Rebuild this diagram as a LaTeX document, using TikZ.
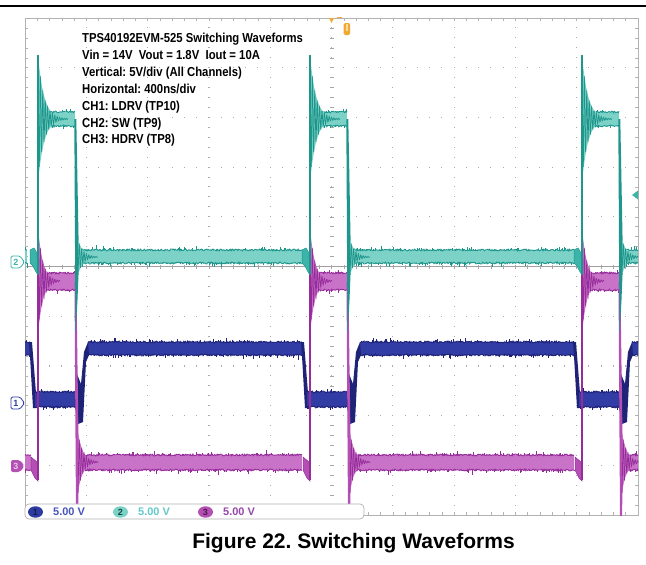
\documentclass[tikz,border=0pt]{standalone}
\usepackage{fontspec}
\setmainfont{Liberation Sans}
\newfontfamily\annfont[FakeStretch=0.87]{Liberation Sans}
\frenchspacing
\definecolor{tealL}{RGB}{125,210,200}
\definecolor{tealD}{RGB}{30,150,140}
\definecolor{tealC}{RGB}{60,180,170}
\definecolor{magL}{RGB}{200,115,200}
\definecolor{magD}{RGB}{150,45,155}
\definecolor{magC}{RGB}{180,80,180}
\definecolor{bluL}{RGB}{50,60,165}
\definecolor{bluD}{RGB}{30,35,120}
\definecolor{bluC}{RGB}{45,60,160}
\definecolor{gridc}{RGB}{170,170,170}
\definecolor{orng}{RGB}{240,170,50}
\definecolor{bluT}{RGB}{70,85,190}
\definecolor{tealT}{RGB}{100,200,200}
\definecolor{magT}{RGB}{150,70,170}
\newcommand\wband[5]{%
  \pgfmathsetmacro\wa{#2}\pgfmathsetmacro\wb{#3}%
  \pgfmathsetmacro\wt{#4}\pgfmathsetmacro\wu{#5}%
  \fill[#1L] (\wa,\wt) rectangle (\wb,\wu);
  \pgfmathtruncatemacro\wns{max(3,(\wb-\wa)*1.3)}%
  \draw[#1D,line width=0.9pt] plot[domain=\wa:\wb,samples=\wns,variable=\q] (\q,{\wt+0.9*rand});
  \draw[#1D,line width=0.9pt] plot[domain=\wa:\wb,samples=\wns,variable=\q] (\q,{\wu+0.9*rand});
  \pgfmathtruncatemacro\wnk{max(1,(\wb-\wa)/5)}%
  \foreach \k in {1,...,\wnk}{%
    \pgfmathsetmacro\xa{\wa+rnd*(\wb-\wa)}%
    \pgfmathsetmacro\ha{1+4*rnd*rnd}%
    \draw[#1D,line width=0.5pt] (\xa,\wt) -- (\xa,\wt-\ha);
    \pgfmathsetmacro\xb{\wa+rnd*(\wb-\wa)}%
    \pgfmathsetmacro\hb{1+4*rnd*rnd}%
    \draw[#1D,line width=0.5pt] (\xb,\wu) -- (\xb,\wu+\hb);
  }%
}
\newcommand\wring[7]{%
  \pgfmathsetmacro\wa{#2}\pgfmathsetmacro\wb{#3}%
  \pgfmathsetmacro\wc{#4}\pgfmathsetmacro\wA{#5}%
  \pgfmathsetmacro\wT{#6}\pgfmathsetmacro\wP{#7}%
  \pgfmathtruncatemacro\wns{max(3,(\wb-\wa)*3)}%
  \fill[#1L] plot[domain=\wa:\wb,samples=40,variable=\q] (\q,{\wc-(\wA)*exp(-(\q-\wa)/\wT)}) -- plot[domain=\wb:\wa,samples=40,variable=\q] (\q,{\wc+(\wA)*exp(-(\q-\wa)/\wT)}) -- cycle;
  \draw[#1D,line width=0.7pt] plot[domain=\wa:\wb,samples=\wns,variable=\q] (\q,{\wc-(\wA)*exp(-(\q-\wa)/\wT)*cos(360*(\q-\wa)/\wP)});
}
\begin{document}
\begin{tikzpicture}[x=1pt,y=-1pt]
\pgfmathsetseed{7}
\useasboundingbox (0,0) rectangle (646,565);
\fill[white] (0,0) rectangle (646,565);
% top rule
\draw[line width=1.5pt] (0,6) -- (646,6);
% grid dots
\foreach \j in {1,...,9}{
  \pgfmathsetmacro\yy{18+49.7*\j}
  \foreach \k in {1,...,49}{
    \pgfmathsetmacro\xx{25+12.26*\k}
    \fill[gridc] (\xx-0.5,\yy-0.6) rectangle (\xx+0.5,\yy+0.6);
  }
}
\foreach \i in {1,...,9}{
  \pgfmathsetmacro\xx{25+61.3*\i}
  \foreach \k in {1,...,49}{
    \pgfmathsetmacro\yy{18+9.94*\k}
    \fill[gridc] (\xx-0.6,\yy-0.5) rectangle (\xx+0.6,\yy+0.5);
  }
}
% centre lines
\draw[gray!75,line width=0.6pt] (25,266.5) -- (638,266.5);
\foreach \k in {1,...,49}{
  \pgfmathsetmacro\xx{25+12.26*\k}
  \draw[gray!70,line width=0.5pt] (\xx,264.5) -- (\xx,268.5);
  \pgfmathsetmacro\yy{18+9.94*\k}
  \draw[gray!70,line width=0.5pt] (329.5,\yy) -- (333.5,\yy);
}
% frame with ticks
\draw[gray!60,line width=0.7pt] (25,18) rectangle (638,515);
\foreach \k in {1,...,49}{
  \pgfmathsetmacro\yy{18+9.94*\k}
  \draw[gray!60,line width=0.5pt] (25,\yy) -- (28,\yy);
  \draw[gray!60,line width=0.5pt] (638,\yy) -- (635,\yy);
  \pgfmathsetmacro\xx{25+12.26*\k}
  \draw[gray!60,line width=0.5pt] (\xx,18) -- (\xx,21);
  \draw[gray!60,line width=0.5pt] (\xx,515) -- (\xx,512);
}
% traces
\begin{scope}
\clip (25,18) rectangle (638,515);
% CH1 blue LDRV
\wband{blu}{25}{30}{342}{355}
\wband{blu}{88}{302}{342}{355}
\wband{blu}{360}{574}{342}{355}
\wband{blu}{632}{640}{342}{355}
\foreach \xo in {38,310,582}{
  \fill[bluD] (\xo-9,342) -- (\xo-6,342) -- (\xo-2,393) -- (\xo-2,408) -- (\xo-5,408) -- (\xo-8,356) -- cycle;
  \wband{blu}{\xo-3}{\xo+37}{392}{407}
  \fill[bluD] (\xo+37,392) -- (\xo+39,374) -- (\xo+43,384) -- (\xo+46,352) -- (\xo+50,342) -- (\xo+51,355) -- (\xo+48,362) -- (\xo+45,422) -- (\xo+40,424) -- (\xo+37,407) -- cycle;
}
% CH3 magenta HDRV
\wband{mag}{25}{31}{455}{470}
\wband{mag}{80}{302}{455}{470}
\wband{mag}{352}{574}{455}{470}
\wband{mag}{624}{640}{455}{470}
\foreach \xo in {38,310,582}{
  \fill[magC,draw=magD,line width=0.5pt] (\xo-7,457) -- (\xo-1,462) -- (\xo,481) -- (\xo-3,478) -- (\xo-7,470) -- cycle;
  \wband{mag}{\xo+8}{\xo+37}{273}{290}
  \wring{mag}{\xo}{\xo+22}{281}{53}{5}{2.4}
  \draw[magD,line width=1.2pt] (\xo,480) -- (\xo,228);
  \fill[magC] (\xo+36.5,282) -- (\xo+38,516) -- (\xo+40,516) -- (\xo+41,470) -- (\xo+38.3,282) -- cycle;
  \wring{mag}{\xo+40}{\xo+60}{462}{-30}{5}{2.4}
}
% CH2 teal SW
\wband{teal}{25}{27}{250}{263}
\wband{teal}{80}{302}{250}{263}
\wband{teal}{352}{574}{250}{263}
\wband{teal}{624}{640}{250}{263}
\foreach \xo in {38,310,582}{
  \fill[tealC,draw=tealD,line width=0.5pt] (\xo-8,250) -- (\xo-4,248) -- (\xo-1,253) -- (\xo,275) -- (\xo-2.5,271) -- (\xo-5,266) -- (\xo-8,263) -- cycle;
  \wband{teal}{\xo+8}{\xo+37}{112}{126}
  \wring{teal}{\xo}{\xo+30}{119}{64}{6}{2.4}
  \draw[tealD,line width=1.2pt] (\xo,274) -- (\xo,55);
  \fill[tealD] (\xo+36.3,119) -- (\xo+37.5,334) -- (\xo+39.5,300) -- (\xo+41,262) -- (\xo+38.3,119) -- cycle;
  \wring{teal}{\xo+40}{\xo+60}{257}{-18}{5}{2.4}
}
\end{scope}
% markers left
\draw[tealC,fill=white,line width=0.8pt,rounded corners=1.5pt] (11,256) -- (20,256) -- (24.5,262) -- (20,268) -- (11,268) -- cycle;
\node[font=\bfseries\fontsize{9}{9}\selectfont,text=tealC,inner sep=0] (m2) at (16,262) {2};
\draw[bluC,fill=white,line width=0.8pt,rounded corners=1.5pt] (11,397) -- (20,397) -- (24.5,403) -- (20,409) -- (11,409) -- cycle;
\node[font=\bfseries\fontsize{9}{9}\selectfont,text=bluC,inner sep=0] (m1) at (16,403) {1};
\fill[magC,rounded corners=2pt] (11,460) -- (20,460) -- (24.5,466) -- (20,472) -- (11,472) -- cycle;
\node[font=\bfseries\fontsize{9}{9}\selectfont,text=magL!40!white,inner sep=0] (m3) at (16,466) {3};
% top markers
\fill[orng] (329,18) -- (334,18) -- (331.5,23) -- cycle;
\draw[orng,line width=1pt] (337,17.5) -- (342,17.5);
\fill[orng,rounded corners=1.5pt] (343.5,23) rectangle (350,35);
\fill[orng!45!white] (345.5,24) rectangle (348,31);
% right trigger level marker
\fill[tealC] (638,190.5) -- (632,195) -- (638,199.5) -- cycle;
% legend tab
\draw[gray!60,fill=white,line width=0.7pt,rounded corners=4pt] (25,504) rectangle (364,519);
\fill[bluC] (35.5,512) ellipse (7.5pt and 5.7pt);
\node[font=\bfseries\fontsize{9}{9}\selectfont,text=bluD!70!black,inner sep=0] (l1) at (35.5,512) {1};
\node[anchor=west,font=\bfseries\fontsize{11}{12}\selectfont,text=bluT,inner sep=0] (v1) at (53,512) {5.00 V};
\fill[tealL] (120.5,512) ellipse (7.5pt and 5.7pt);
\node[font=\bfseries\fontsize{9}{9}\selectfont,text=tealD!50!black,inner sep=0] (l2) at (120.5,512) {2};
\node[anchor=west,font=\bfseries\fontsize{11}{12}\selectfont,text=tealT,inner sep=0] (v2) at (138,512) {5.00 V};
\fill[magC] (205.5,512) ellipse (7.5pt and 5.7pt);
\node[font=\bfseries\fontsize{9}{9}\selectfont,text=magD!50!black,inner sep=0] (l3) at (205.5,512) {3};
\node[anchor=west,font=\bfseries\fontsize{11}{12}\selectfont,text=magT,inner sep=0] (v3) at (223,512) {5.00 V};
% annotation text
\tikzset{anntext/.style={anchor=base west,inner sep=0,font=\annfont\bfseries\fontsize{13}{16}\selectfont}}
\node[anntext] (a1) at (82,42.5) {TPS40192EVM-525 Switching Waveforms};
\node[anntext] (a2) at (82,59) {Vin = 14V\ \ Vout = 1.8V\ \ Iout = 10A};
\node[anntext] (a3) at (82,76) {Vertical: 5V/div (All Channels)};
\node[anntext] (a4) at (82,93) {Horizontal: 400ns/div};
\node[anntext] (a5) at (82,110) {CH1: LDRV (TP10)};
\node[anntext] (a6) at (82,127) {CH2: SW (TP9)};
\node[anntext] (a7) at (82,143) {CH3: HDRV (TP8)};
% caption
\node[anchor=base,inner sep=0,font=\bfseries\fontsize{21}{25}\selectfont] (cap) at (353.5,548) {Figure 22. Switching Waveforms};
\end{tikzpicture}
\end{document}
